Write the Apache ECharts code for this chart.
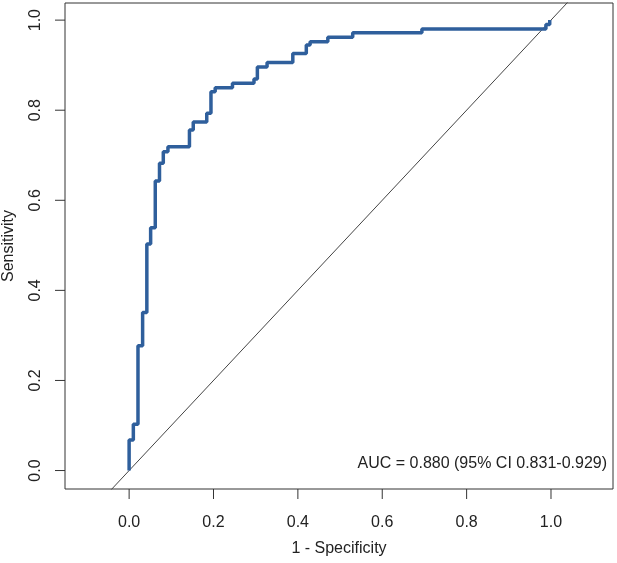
<!DOCTYPE html>
<html>
<head>
<meta charset="utf-8">
<script src="https://cdn.jsdelivr.net/npm/echarts@6/dist/echarts.min.js"></script>
<style>
  html, body { margin: 0; padding: 0; background: #ffffff; }
  #main { width: 617px; height: 563px; }
</style>
</head>
<body>
<div id="main"></div>
<script>
// ROC curve corners (1 - specificity, sensitivity)
const fpr = [0, 0.010, 0.021, 0.032, 0.042, 0.051, 0.062, 0.072, 0.081, 0.092,
  0.143, 0.152, 0.184, 0.194, 0.204, 0.245, 0.296, 0.304, 0.327, 0.388,
  0.420, 0.429, 0.471, 0.530, 0.694, 0.988, 0.997, 0.997];
const tpr = [0, 0.068, 0.103, 0.277, 0.351, 0.503, 0.539, 0.643, 0.682, 0.708,
  0.719, 0.756, 0.774, 0.793, 0.841, 0.850, 0.860, 0.869, 0.896, 0.906,
  0.926, 0.945, 0.952, 0.962, 0.972, 0.980, 0.990, 1.0];
const refLine = [-0.3, 1.3];
const xTicks = [0, 0.2, 0.4, 0.6, 0.8, 1.0];
const yTicks = [0, 0.2, 0.4, 0.6, 0.8, 1.0];
const aucText = 'AUC = 0.880 (95% CI 0.831-0.929)';

const font = 'Liberation Sans, Arial, Helvetica, sans-serif';
const ink = '#222222';
const xMin = -0.152, xMax = 1.147;
const yMin = -0.041, yMax = 1.038;
const tickLen = 10;

let curve = fpr.map((x, i) => [x, tpr[i]]);
let diag = refLine.map(v => [v, v]);

// R-style outside ticks: thin rect markers sitting on the box edge
function tickMarks(data, dir) {
  return {
    type: 'scatter',
    silent: true,
    clip: false,
    z: 10,
    data: data,
    symbol: 'rect',
    symbolSize: dir === 'x' ? [1, tickLen] : [tickLen, 1],
    symbolOffset: dir === 'x' ? [0, tickLen / 2] : [-tickLen / 2, 0],
    itemStyle: {color: '#333333', opacity: 1},
    emphasis: {disabled: true}
  };
}

let chart = echarts.init(document.getElementById('main'));
let option = {
  animation: false,
  backgroundColor: '#ffffff',
  grid: {
    left: 65,
    right: 4,
    top: 3,
    bottom: 74,
    containLabel: false,
    outerBoundsMode: 'none',
    show: true,
    borderColor: '#333333',
    borderWidth: 1
  },
  xAxis: {
    type: 'value',
    min: xMin,
    max: xMax,
    name: '1 - Specificity',
    nameLocation: 'middle',
    nameGap: 52,
    nameTextStyle: {color: ink, fontSize: 16, fontFamily: font},
    axisLine: {show: false, onZero: false},
    splitLine: {show: false},
    axisTick: {show: false},
    axisLabel: {
      color: ink, fontSize: 16, fontFamily: font, margin: 26,
      customValues: xTicks,
      formatter: v => v.toFixed(1)
    }
  },
  yAxis: {
    type: 'value',
    min: yMin,
    max: yMax,
    name: 'Sensitivity',
    nameLocation: 'middle',
    nameGap: 48,
    nameTextStyle: {color: ink, fontSize: 16, fontFamily: font},
    axisLine: {show: false, onZero: false},
    splitLine: {show: false},
    axisTick: {show: false},
    axisLabel: {
      color: ink, fontSize: 16, fontFamily: font, margin: 21, rotate: 90,
      customValues: yTicks,
      formatter: v => v.toFixed(1)
    }
  },
  series: [
    tickMarks(xTicks.map(v => [v, yMin]), 'x'),
    tickMarks(yTicks.map(v => [xMin, v]), 'y'),
    {
      type: 'line',
      data: diag,
      symbol: 'none',
      silent: true,
      clip: true,
      lineStyle: {color: '#444444', width: 1}
    },
    {
      type: 'line',
      data: curve,
      step: 'start',
      symbol: 'none',
      clip: true,
      lineStyle: {color: '#2f5f9c', width: 3.5}
    }
  ],
  graphic: [{
    type: 'text',
    right: 10,
    top: 456,
    style: {text: aucText, fill: ink, fontSize: 16, fontFamily: font}
  }]
};
chart.setOption(option);
</script>
</body>
</html>
